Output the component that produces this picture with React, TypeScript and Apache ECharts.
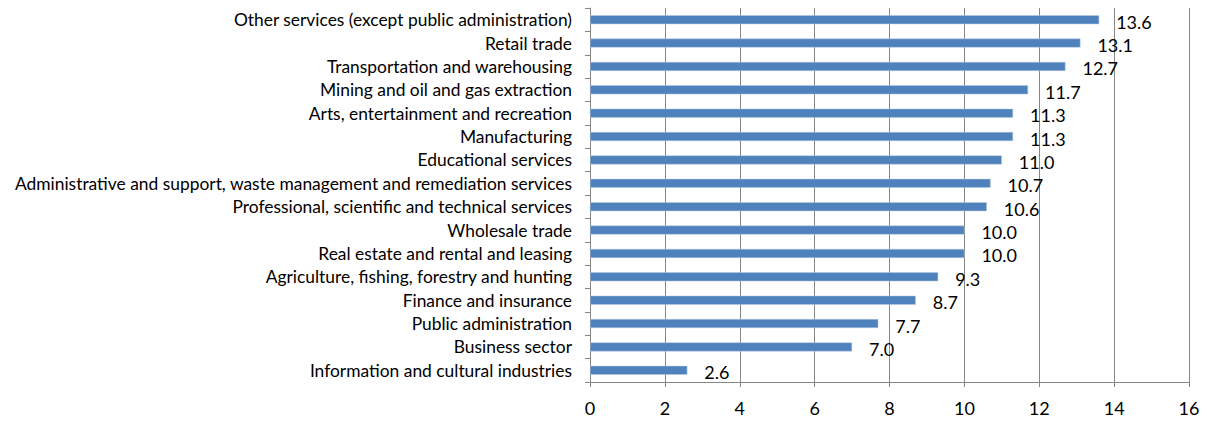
import React, { useEffect, useRef } from "react";
import * as echarts from "echarts";

const categories: string[] = [
  "Other services (except public administration)",
  "Retail trade",
  "Transportation and warehousing",
  "Mining and oil and gas extraction",
  "Arts, entertainment and recreation",
  "Manufacturing",
  "Educational services",
  "Administrative and support, waste management and remediation services",
  "Professional, scientific and technical services",
  "Wholesale trade",
  "Real estate and rental and leasing",
  "Agriculture, fishing, forestry and hunting",
  "Finance and insurance",
  "Public administration",
  "Business sector",
  "Information and cultural industries",
];

const values: number[] = [13.6, 13.1, 12.7, 11.7, 11.3, 11.3, 11.0, 10.7, 10.6, 10.0, 10.0, 9.3, 8.7, 7.7, 7.0, 2.6];

const xTicks = { min: 0, max: 16, interval: 2 };

const FONT = "Lato";
const GRAY = "#868686";

export default function App() {
  const ref = useRef<HTMLDivElement>(null);
  useEffect(() => {
    if (!ref.current) return;
    const chart = echarts.init(ref.current, undefined, { renderer: "svg" });
    chart.setOption({
      animation: false,
      textStyle: { fontFamily: FONT },
      grid: { left: 590, right: 18, top: 8, bottom: 40, containLabel: false },
      xAxis: {
        type: "value",
        min: xTicks.min,
        max: xTicks.max,
        interval: xTicks.interval,
        axisLine: { show: true, lineStyle: { color: GRAY, width: 1 } },
        axisTick: { show: true, length: 5, lineStyle: { color: GRAY } },
        splitLine: { show: true, lineStyle: { color: GRAY, width: 1 } },
        axisLabel: { color: "#000", fontSize: 18, fontFamily: FONT, margin: 17 },
      },
      yAxis: {
        type: "category",
        data: categories,
        inverse: true,
        axisLine: { show: true, lineStyle: { color: GRAY, width: 1 } },
        axisTick: { show: true, length: 5, alignWithLabel: false, lineStyle: { color: GRAY } },
        splitLine: { show: false },
        axisLabel: { color: "#000", fontSize: 17.4, fontFamily: FONT, margin: 18 },
      },
      series: [
        {
          type: "bar",
          data: values,
          barWidth: 9,
          itemStyle: { color: "#4F81BD", borderColor: "#B9CDE5", borderWidth: 0.5 },
          label: {
            show: true,
            position: "right",
            distance: 0,
            offset: [17, 2],
            color: "#000",
            fontSize: 18,
            fontFamily: FONT,
            formatter: (p: any) => Number(p.value).toFixed(1),
          },
        },
      ],
    });
    return () => chart.dispose();
  }, []);
  return (
    <div
      ref={ref}
      style={{ position: "fixed", left: 0, top: 0, width: 1207, height: 422, background: "#fff" }}
    />
  );
}
